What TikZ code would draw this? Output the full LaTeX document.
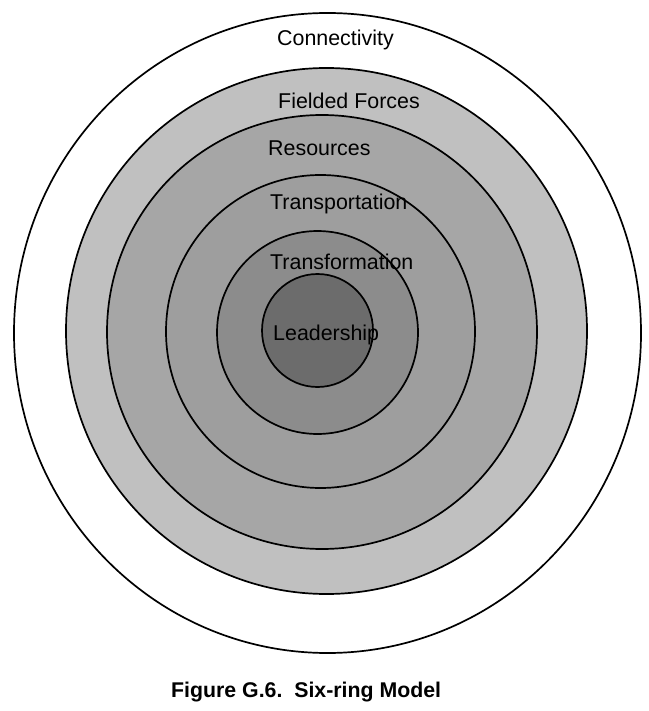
\documentclass[tikz,border=0pt]{standalone}
\usepackage{fontspec}
\setmainfont{Liberation Sans}
\begin{document}
\begin{tikzpicture}[x=1pt,y=-1pt,
  ring/.style={draw=black,line width=1.7pt},
  lbl/.style={anchor=base west,inner sep=0pt,font=\fontsize{21.4}{25}\selectfont},
  captiontext/.style={anchor=base west,inner sep=0pt,font=\fontsize{21.3}{25}\selectfont\bfseries}]
\useasboundingbox (0,0) rectangle (648,711);
\fill[white] (0,0) rectangle (648,711);
\filldraw[ring,fill=white] (327.5,333) ellipse [x radius=313.5pt,y radius=320pt];
\filldraw[ring,fill={rgb,255:red,192;green,192;blue,192}] (326.5,331) ellipse [x radius=260.5pt,y radius=263pt];
\filldraw[ring,fill={rgb,255:red,166;green,166;blue,166}] (322,332) ellipse [x radius=215pt,y radius=217pt];
\filldraw[ring,fill={rgb,255:red,158;green,158;blue,158}] (320.5,331.5) ellipse [x radius=154.5pt,y radius=156.5pt];
\filldraw[ring,fill={rgb,255:red,140;green,140;blue,140}] (317.5,332.5) ellipse [x radius=100.5pt,y radius=101.5pt];
\filldraw[ring,fill={rgb,255:red,108;green,108;blue,108}] (317.5,330.5) ellipse [x radius=55.5pt,y radius=56.5pt];
\node[lbl] (conn) at (277,46) {Connectivity};
\node[lbl] (field) at (278,109) {Fielded Forces};
\node[lbl] (res) at (268,155.5) {Resources};
\node[lbl] (transp) at (270,210) {Transportation};
\node[lbl] (transf) at (270,269) {Transformation};
\node[lbl] (lead) at (273,340.5) {Leadership};
\node[captiontext] (caption) at (171,697) {Figure G.6.\ \ Six-ring Model};
\end{tikzpicture}
\end{document}
